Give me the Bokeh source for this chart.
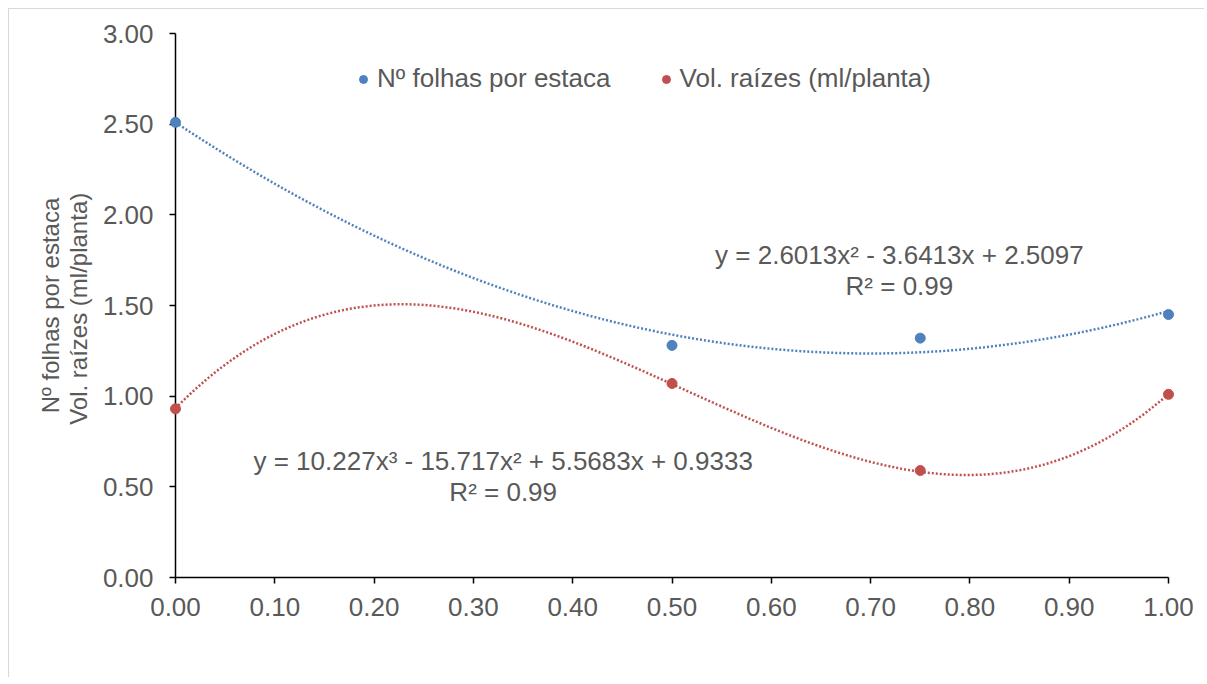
import numpy as np
from bokeh.plotting import figure
from bokeh.models import (Range1d, FixedTicker, NumeralTickFormatter, Legend,
                          LegendItem, Label)
from bokeh.embed import file_html
from bokeh.resources import INLINE

# ---- data ----
doses = [0.0, 0.5, 0.75, 1.0]
folhas = [2.51, 1.28, 1.32, 1.45]
raizes = [0.93, 1.07, 0.59, 1.01]

# trendline coefficients (highest power first), as printed on the chart
coef_folhas = [2.6013, -3.6413, 2.5097]
coef_raizes = [10.227, -15.717, 5.5683, 0.9333]

eq_folhas = ["y = 2.6013x² - 3.6413x + 2.5097", "R² = 0.99"]
eq_raizes = ["y = 10.227x³ - 15.717x² + 5.5683x + 0.9333", "R² = 0.99"]

x_ticks = [0.0, 0.1, 0.2, 0.3, 0.4, 0.5, 0.6, 0.7, 0.8, 0.9, 1.0]
y_ticks = [0.0, 0.5, 1.0, 1.5, 2.0, 2.5, 3.0]

series_names = ["Nº folhas por estaca", "Vol. raízes (ml/planta)"]
y_title = "Nº folhas por estaca\nVol. raízes  (ml/planta)"

BLUE = "#4F81BD"
RED = "#C0504D"
TXT = "#595959"
FONT = "Liberation Sans"

p = figure(frame_width=993, frame_height=544, output_backend="svg", toolbar_location=None,
           x_range=Range1d(0, 1), y_range=Range1d(0, 3),
           min_border_left=166, min_border_right=36,
           min_border_top=24, min_border_bottom=100)
p.styles = {"margin-left": "8px", "margin-top": "8px",
            "border-left": "1px solid #D9D9D9", "border-top": "1px solid #D9D9D9"}
p.xgrid.visible = False
p.ygrid.visible = False
p.outline_line_color = None

for ax in (p.xaxis[0], p.yaxis[0]):
    ax.axis_line_color = "#000000"
    ax.axis_line_width = 1.5
    ax.major_tick_line_color = "#000000"
    ax.major_tick_line_width = 1.5
    ax.major_tick_in = 0
    ax.major_tick_out = 6
    ax.minor_tick_line_color = None
    ax.major_label_text_font = FONT
    ax.major_label_text_font_size = "26px"
    ax.major_label_text_color = TXT
    ax.formatter = NumeralTickFormatter(format="0.00")

p.xaxis.ticker = FixedTicker(ticks=x_ticks)
p.yaxis.ticker = FixedTicker(ticks=y_ticks)
p.xaxis.major_label_standoff = 14
p.yaxis.major_label_standoff = 16
p.yaxis.axis_label = y_title
p.yaxis.axis_label_text_font = FONT
p.yaxis.axis_label_text_font_size = "24px"
p.yaxis.axis_label_text_font_style = "normal"
p.yaxis.axis_label_text_color = TXT
p.yaxis.axis_label_text_line_height = 1.05
p.yaxis.axis_label_standoff = 8

# trendlines
xs = np.linspace(0, 1, 201)
p.line(xs, np.polyval(coef_folhas, xs), line_color=BLUE, line_width=2.5, line_dash="2 2")
p.line(xs, np.polyval(coef_raizes, xs), line_color=RED, line_width=2.5, line_dash="2 2")

# points
rb = p.scatter(doses, folhas, size=10, fill_color=BLUE, line_color=BLUE, level="overlay")
rr = p.scatter(doses, raizes, size=10, fill_color=RED, line_color=RED, level="overlay")

legend = Legend(items=[LegendItem(label=series_names[0], renderers=[rb]),
                       LegendItem(label=series_names[1], renderers=[rr])],
                orientation="horizontal", location=(178, 483),
                border_line_color=None, background_fill_alpha=0,
                padding=0, margin=0, spacing=45,
                glyph_width=20, glyph_height=20, label_height=25,
                label_standoff=4, label_text_font=FONT,
                label_text_font_size="26px", label_text_color=TXT)
p.add_layout(legend, "center")

def add_eq(lines, x, ys):
    for t, yy in zip(lines, ys):
        p.add_layout(Label(x=x, y=yy, text=t, text_align="center",
                           text_baseline="middle", text_font=FONT,
                           text_font_size="26px", text_color=TXT))

add_eq(eq_folhas, 0.729, [1.776, 1.610])
add_eq(eq_raizes, 0.330, [0.640, 0.474])

open("out.html", "w").write(file_html(p, INLINE))
